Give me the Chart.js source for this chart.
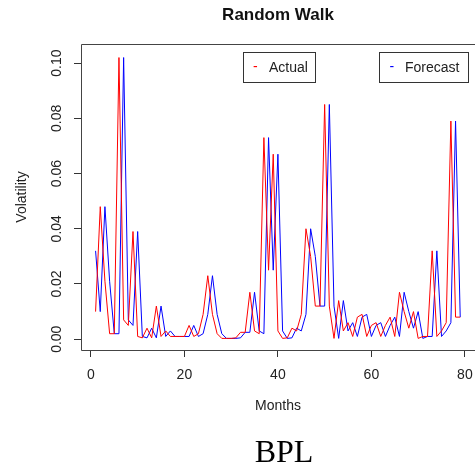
<!DOCTYPE html>
<html>
<head>
<meta charset="utf-8">
<script src="https://cdn.jsdelivr.net/npm/chart.js@4"></script>
<style>
  html, body { margin: 0; padding: 0; background: #fff; overflow: hidden; }
  canvas { display: block; }
</style>
</head>
<body>
<canvas id="rw" width="475" height="470"></canvas>
<script>
const months = [
  1, 2, 3, 4, 5, 6, 7, 8, 9, 10, 11, 12, 13, 14, 15, 16, 17, 18, 19, 20,
  21, 22, 23, 24, 25, 26, 27, 28, 29, 30, 31, 32, 33, 34, 35, 36, 37, 38, 39, 40,
  41, 42, 43, 44, 45, 46, 47, 48, 49, 50, 51, 52, 53, 54, 55, 56, 57, 58, 59, 60,
  61, 62, 63, 64, 65, 66, 67, 68, 69, 70, 71, 72, 73, 74, 75, 76, 77, 78, 79
];

const actual = [
  0.010, 0.048, 0.021, 0.002, 0.002, 0.102, 0.007, 0.005, 0.039, 0.001,
  0.0005, 0.004, 0.0005, 0.012, 0.001, 0.003, 0.001, 0.001, 0.001, 0.001,
  0.005, 0.001, 0.002, 0.009, 0.023, 0.009, 0.002, 0.0003, 0.0003, 0.0003,
  0.0005, 0.0025, 0.0025, 0.017, 0.003, 0.002, 0.073, 0.025, 0.067, 0.003,
  0.0003, 0.0005, 0.004, 0.003, 0.009, 0.040, 0.030, 0.012, 0.012, 0.085,
  0.012, 0.0003, 0.014, 0.003, 0.006, 0.001, 0.008, 0.009, 0.001, 0.005,
  0.006, 0.001, 0.005, 0.008, 0.001, 0.017, 0.010, 0.004, 0.010, 0.0003,
  0.001, 0.001, 0.032, 0.001, 0.003, 0.006, 0.079, 0.008, 0.008
];

// random walk forecast: last month's actual value
const forecast = [
  0.032, 0.010, 0.048, 0.021, 0.002, 0.002, 0.102, 0.007, 0.005, 0.039,
  0.001, 0.0005, 0.004, 0.0005, 0.012, 0.001, 0.003, 0.001, 0.001, 0.001,
  0.001, 0.005, 0.001, 0.002, 0.009, 0.023, 0.009, 0.002, 0.0003, 0.0003,
  0.0003, 0.0005, 0.0025, 0.0025, 0.017, 0.003, 0.002, 0.073, 0.025, 0.067,
  0.003, 0.0003, 0.0005, 0.004, 0.003, 0.009, 0.040, 0.030, 0.012, 0.012,
  0.085, 0.012, 0.0003, 0.014, 0.003, 0.006, 0.001, 0.008, 0.009, 0.001,
  0.005, 0.006, 0.001, 0.005, 0.008, 0.001, 0.017, 0.010, 0.004, 0.010,
  0.0003, 0.001, 0.001, 0.032, 0.001, 0.003, 0.006, 0.079, 0.008
];

const xTicks = [0, 20, 40, 60, 80];
const yTicks = [0, 0.02, 0.04, 0.06, 0.08, 0.10];

const FONT = "'Liberation Sans', Arial, sans-serif";

function points(vals) {
  return months.map((m, i) => ({ x: m, y: vals[i] }));
}

// box, titles, caption and the two boxed legend entries, drawn R style
const rDecor = {
  id: 'rDecor',
  afterDraw(chart) {
    const { ctx, chartArea: a } = chart;
    ctx.save();
    ctx.strokeStyle = '#444';
    ctx.lineWidth = 1;
    ctx.beginPath();
    ctx.moveTo(a.right, a.top + 0.5);
    ctx.lineTo(a.left + 0.5, a.top + 0.5);
    ctx.lineTo(a.left + 0.5, a.bottom + 0.5);
    ctx.lineTo(a.right, a.bottom + 0.5);
    ctx.stroke();

    const cx = (a.left + a.right) / 2;
    ctx.fillStyle = '#111';
    ctx.textAlign = 'center';
    ctx.textBaseline = 'middle';
    ctx.font = 'bold 17px ' + FONT;
    ctx.fillText('Random Walk', cx, 15);

    ctx.font = '14px ' + FONT;
    ctx.fillStyle = '#222';
    ctx.fillText('Months', cx, 406);

    ctx.save();
    ctx.translate(22, (a.top + a.bottom) / 2);
    ctx.rotate(-Math.PI / 2);
    ctx.fillText('Volatility', 0, 0);
    ctx.restore();

    ctx.fillStyle = '#000';
    ctx.font = "32px 'Liberation Serif', 'Times New Roman', serif";
    ctx.fillText('BPL', 284, 454);

    // legend boxes
    const entries = [
      { label: 'Actual', color: '#ff0000', box: [243.5, 52.5, 72, 30], mark: 255, text: 269 },
      { label: 'Forecast', color: '#0000ff', box: [379.5, 52.5, 89, 30], mark: 391.5, text: 405 }
    ];
    ctx.font = '14px ' + FONT;
    ctx.textAlign = 'left';
    entries.forEach(e => {
      ctx.strokeStyle = '#333';
      ctx.strokeRect(...e.box);
      ctx.fillStyle = e.color;
      ctx.fillText('-', e.mark - 2, 67);
      ctx.fillStyle = '#222';
      ctx.fillText(e.label, e.text, 68);
    });
    ctx.restore();
  }
};

new Chart(document.getElementById('rw'), {
  type: 'line',
  data: {
    datasets: [
      {
        label: 'Actual',
        data: points(actual),
        borderColor: '#ff0000',
        borderWidth: 1,
        pointRadius: 0,
        tension: 0,
        fill: false
      },
      {
        label: 'Forecast',
        data: points(forecast),
        borderColor: '#0000ff',
        borderWidth: 1,
        pointRadius: 0,
        tension: 0,
        fill: false
      }
    ]
  },
  options: {
    responsive: false,
    animation: false,
    events: [],
    layout: { padding: { top: 44, left: 0, right: 0, bottom: 0 } },
    plugins: {
      legend: { display: false },
      tooltip: { enabled: false },
      title: { display: false }
    },
    scales: {
      x: {
        type: 'linear',
        min: -2.12,
        max: 82.16,
        afterBuildTicks: s => { s.ticks = xTicks.map(v => ({ value: v })); },
        afterFit: s => {
          s.height = 120;
          // the frame runs to the right edge, so no room is kept for the last label
          s.paddingLeft = 0;
          s.paddingRight = 0;
        },
        border: { display: false },
        grid: {
          drawOnChartArea: false,
          drawTicks: true,
          tickLength: 7,
          color: '#333'
        },
        ticks: {
          padding: 10,
          color: '#222',
          font: { family: FONT, size: 14 },
          maxRotation: 0,
          callback: v => String(v)
        }
      },
      y: {
        min: -0.0039,
        max: 0.1069,
        afterBuildTicks: s => { s.ticks = yTicks.map(v => ({ value: v })); },
        afterFit: s => {
          s.width = 81;
          s.paddingTop = 0;
          s.paddingBottom = 0;
        },
        border: { display: false },
        grid: {
          drawOnChartArea: false,
          drawTicks: true,
          tickLength: 7,
          color: '#333'
        },
        ticks: {
          padding: 3,
          crossAlign: 'center',
          minRotation: 90,
          maxRotation: 90,
          color: '#222',
          font: { family: FONT, size: 14 },
          callback: v => v.toFixed(2)
        }
      }
    }
  },
  plugins: [rDecor]
});
</script>
</body>
</html>
